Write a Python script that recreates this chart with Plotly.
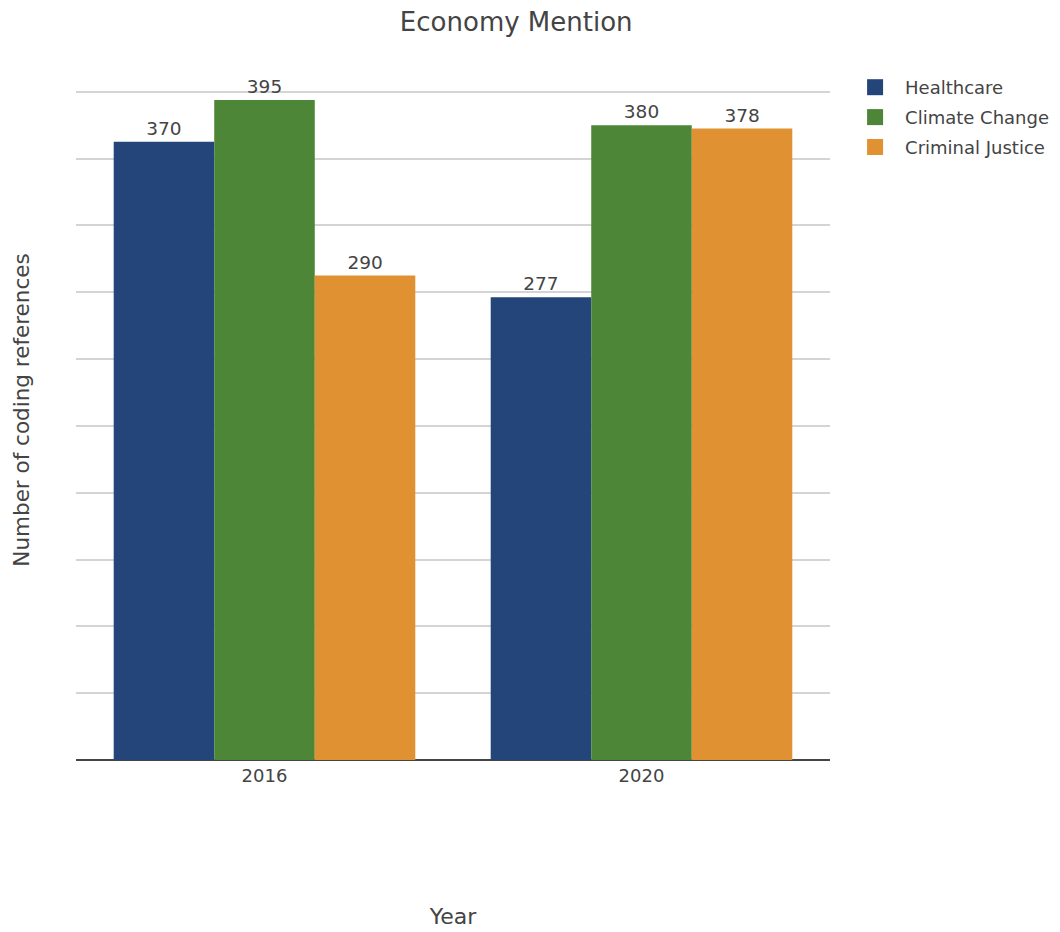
import plotly.graph_objects as go

# Coding references mentioning the economy, by year and topic
years = ["2016", "2020"]
healthcare = [370, 277]
climate_change = [395, 380]
criminal_justice = [290, 378]

series = [
    ("Healthcare", healthcare, "#244579"),
    ("Climate Change", climate_change, "#4d8636"),
    ("Criminal Justice", criminal_justice, "#e09131"),
]

fig = go.Figure()
for name, values, color in series:
    fig.add_trace(go.Bar(
        name=name,
        x=years,
        y=values,
        text=values,
        textposition="outside",
        cliponaxis=False,
        showlegend=False,
        marker=dict(color=color, line=dict(width=0)),
        textfont=dict(size=18.5, color="#444444"),
    ))

# Legend entries with larger square swatches, one group each for row spacing
for name, _, color in series:
    fig.add_trace(go.Scatter(
        name=name,
        legendgroup=name,
        x=[None],
        y=[None],
        mode="markers",
        marker=dict(symbol="square", size=20, color=color),
        showlegend=True,
        hoverinfo="skip",
    ))

fig.update_layout(
    width=1060,
    height=932,
    barmode="group",
    bargap=0.2,
    bargroupgap=0,
    paper_bgcolor="white",
    plot_bgcolor="white",
    font=dict(family="Verdana, DejaVu Sans, sans-serif", size=18, color="#444444"),
    title=dict(text="Economy Mention", x=0.487, xanchor="center",
               y=1 - 22 / 932, yanchor="middle", yref="container",
               font=dict(size=26, color="#444444")),
    margin=dict(l=76, r=230, t=60, b=172, autoexpand=False),
    legend=dict(x=1.020, y=1 + (60 - 69) / 700, xanchor="left", yanchor="top",
                font=dict(size=18, color="#444444"), tracegroupgap=3.5,
                itemwidth=50, itemsizing="trace"),
    xaxis=dict(
        title=dict(text="Year", standoff=123, font=dict(size=22)),
        showgrid=False,
        tickfont=dict(size=18),
        ticklabelstandoff=3,
        automargin=False,
    ),
    yaxis=dict(
        title=dict(text="Number of coding references", font=dict(size=21.5), standoff=39),
        showticklabels=False,
        dtick=40,
        range=[0, 419],
        gridcolor="#d4d4d4",
        gridwidth=1.5,
        zeroline=True,
        zerolinecolor="#444444",
        zerolinewidth=1.5,
        automargin=False,
    ),
)

fig.write_html("out.html")
